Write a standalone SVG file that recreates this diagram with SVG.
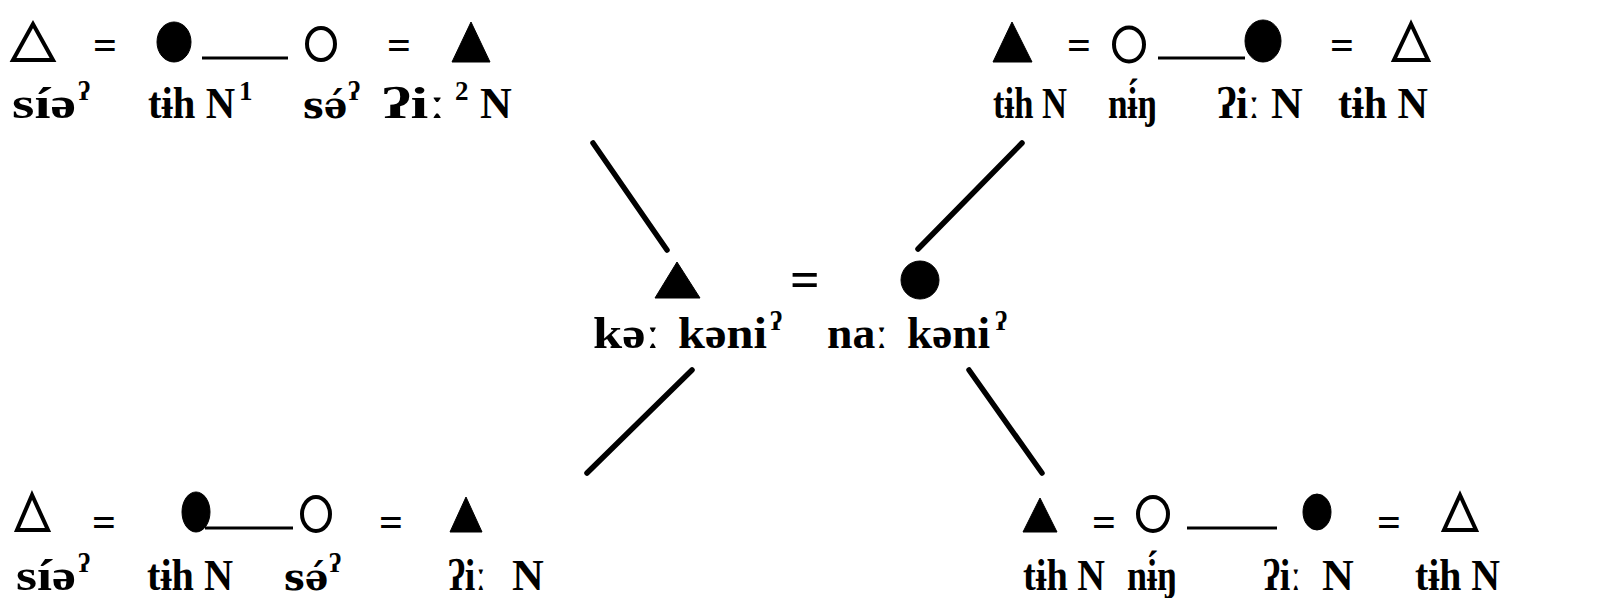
<svg xmlns="http://www.w3.org/2000/svg" width="1623" height="598" viewBox="0 0 1623 598">
<style>
  text { font-family: "Liberation Serif", "DejaVu Serif", serif; font-weight: bold; fill: #000; }
  .lbl { font-size: 44px; }
  .sup { font-size: 27px; }
  .dv { font-family: "DejaVu Serif", "Liberation Serif", serif; font-size: 37px; }
  .eq { font-size: 42px; }
  .eqm { font-size: 52px; }
  .open { fill: none; stroke: #000; stroke-width: 4; stroke-linejoin: miter; }
  .filled { fill: #000; stroke: #000; stroke-width: 1; }
  .ring { fill: none; stroke: #000; stroke-width: 4; }
  .link { stroke: #000; stroke-width: 5.5; stroke-linecap: round; fill: none; }
  .sib { stroke: #000; stroke-width: 3; fill: none; }
</style>
<rect width="1623" height="598" fill="#fff"/>

<g id="connectors">
  <line class="link" x1="593" y1="143" x2="667" y2="250"/>
  <line class="link" x1="1022" y1="143" x2="918" y2="249"/>
  <line class="link" x1="692" y1="370" x2="587" y2="473"/>
  <line class="link" x1="969" y1="370" x2="1042" y2="473"/>
  <line class="sib" x1="202" y1="58" x2="288" y2="58"/>
  <line class="sib" x1="1158" y1="58" x2="1245" y2="58"/>
  <line class="sib" x1="205" y1="528" x2="293" y2="528"/>
  <line class="sib" x1="1187" y1="528" x2="1277" y2="528"/>
  <text class="eq" x="93" y="59">=</text>
  <text class="eq" x="387" y="59">=</text>
  <text class="eq" x="1067" y="59">=</text>
  <text class="eq" x="1330" y="59">=</text>
  <text class="eqm" x="790" y="297">=</text>
  <text class="eq" x="92" y="536">=</text>
  <text class="eq" x="379" y="536">=</text>
  <text class="eq" x="1092" y="536">=</text>
  <text class="eq" x="1377" y="536">=</text>
</g>

<!-- Top left family -->
<g id="tl-sia">
  <polygon class="open" points="33,24 13,60 53,60"/>
  <text class="lbl" x="12" y="118" textLength="64" lengthAdjust="spacingAndGlyphs">síə</text>
  <text class="sup" x="78" y="100">ʔ</text>
</g>
<g id="tl-tih">
  <ellipse class="filled" cx="174" cy="42" rx="17" ry="20"/>
  <text class="lbl" x="148" y="118" textLength="87" lengthAdjust="spacingAndGlyphs">tɨh N</text>
  <text class="sup" x="239" y="100">1</text>
</g>
<g id="tl-se">
  <ellipse class="ring" cx="321" cy="44" rx="14" ry="16"/>
  <text class="lbl dv" x="303" y="118">sə́</text>
  <text class="sup" x="348" y="100">ʔ</text>
</g>
<g id="tl-ii">
  <polygon class="filled" points="471,22 452,62 490,62"/>
  <text class="lbl" x="382" y="118" textLength="64" lengthAdjust="spacingAndGlyphs">ʔiː</text>
  <text class="sup" x="455" y="100">2</text>
  <text class="lbl" x="480" y="118">N</text>
</g>

<!-- Top right family -->
<g id="tr-tih1">
  <polygon class="filled" points="1012,22 993,62 1032,62"/>
  <text class="lbl" x="993" y="118" textLength="74" lengthAdjust="spacingAndGlyphs">tɨh N</text>
</g>
<g id="tr-ning">
  <ellipse class="ring" cx="1129" cy="44.5" rx="15" ry="17"/>
  <text class="lbl" x="1108" y="118" textLength="49" lengthAdjust="spacingAndGlyphs">nɨ́ŋ</text>
</g>
<g id="tr-ii">
  <ellipse class="filled" cx="1263" cy="41" rx="18" ry="21"/>
  <text class="lbl" x="1217" y="118" textLength="43" lengthAdjust="spacingAndGlyphs">ʔiː</text>
  <text class="lbl" x="1271" y="118">N</text>
</g>
<g id="tr-tih2">
  <polygon class="open" points="1411,24 1394,60 1428,60"/>
  <text class="lbl" x="1338" y="118" textLength="90" lengthAdjust="spacingAndGlyphs">tɨh N</text>
</g>

<!-- Middle couple -->
<g id="mid-ke">
  <polygon class="filled" points="677,262 655,298 700,298"/>
  <text class="lbl" x="593" y="348" textLength="67" lengthAdjust="spacingAndGlyphs">kəː</text>
  <text class="lbl" x="678" y="348" textLength="89" lengthAdjust="spacingAndGlyphs">kəni</text>
  <text class="sup" x="770" y="330">ʔ</text>
</g>
<g id="mid-na">
  <circle class="filled" cx="920" cy="280" r="19"/>
  <text class="lbl" x="827" y="348" textLength="61" lengthAdjust="spacingAndGlyphs">naː</text>
  <text class="lbl" x="907" y="348" textLength="83" lengthAdjust="spacingAndGlyphs">kəni</text>
  <text class="sup" x="995" y="330">ʔ</text>
</g>

<!-- Bottom left family -->
<g id="bl-sia">
  <polygon class="open" points="32,495 17,530 48,530"/>
  <text class="lbl" x="16" y="590" textLength="60" lengthAdjust="spacingAndGlyphs">síə</text>
  <text class="sup" x="78" y="572">ʔ</text>
</g>
<g id="bl-tih">
  <ellipse class="filled" cx="196" cy="512" rx="14" ry="20"/>
  <text class="lbl" x="147" y="590" textLength="86" lengthAdjust="spacingAndGlyphs">tɨh N</text>
</g>
<g id="bl-se">
  <ellipse class="ring" cx="316" cy="514" rx="14" ry="17"/>
  <text class="lbl dv" x="284" y="590">sə́</text>
  <text class="sup" x="329" y="572">ʔ</text>
</g>
<g id="bl-ii">
  <polygon class="filled" points="466,497 450,532 482,532"/>
  <text class="lbl" x="448" y="590" textLength="38" lengthAdjust="spacingAndGlyphs">ʔiː</text>
  <text class="lbl" x="512" y="590">N</text>
</g>

<!-- Bottom right family -->
<g id="br-tih1">
  <polygon class="filled" points="1040,498 1023,532 1057,532"/>
  <text class="lbl" x="1023" y="590" textLength="82" lengthAdjust="spacingAndGlyphs">tɨh N</text>
</g>
<g id="br-ning">
  <ellipse class="ring" cx="1153" cy="514" rx="15" ry="17"/>
  <text class="lbl" x="1127" y="590" textLength="50" lengthAdjust="spacingAndGlyphs">nɨ́ŋ</text>
</g>
<g id="br-ii">
  <ellipse class="filled" cx="1317" cy="512" rx="14" ry="18"/>
  <text class="lbl" x="1263" y="590" textLength="38" lengthAdjust="spacingAndGlyphs">ʔiː</text>
  <text class="lbl" x="1322" y="590">N</text>
</g>
<g id="br-tih2">
  <polygon class="open" points="1460,495 1444,530 1476,530"/>
  <text class="lbl" x="1415" y="590" textLength="85" lengthAdjust="spacingAndGlyphs">tɨh N</text>
</g>
</svg>
